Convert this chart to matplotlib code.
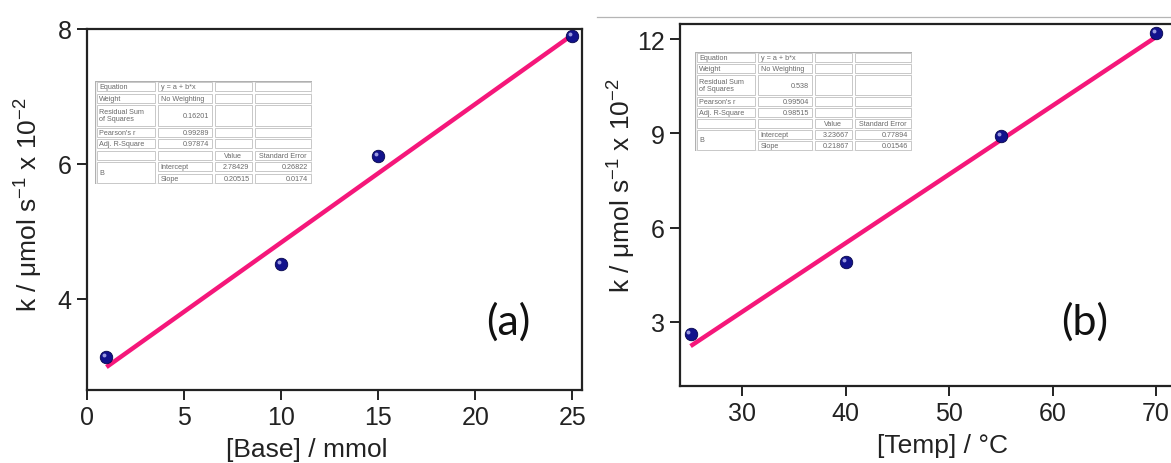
import numpy as np
import matplotlib
matplotlib.use("Agg")
import matplotlib.pyplot as plt
import matplotlib.transforms as mtrans
from matplotlib.patches import Rectangle

# -------------------- data ----------------------------------------------
base_mmol = [1, 10, 15, 25]
k_base = [3.14, 4.52, 6.12, 7.90]
fit_a = (2.78429, 0.20515)          # intercept, slope from the inset table

temp_c = [25, 40, 55, 70]
k_temp = [2.62, 4.90, 8.90, 12.20]
fit_b = (-3.23667, 0.21867)

xticks_a = [0, 5, 10, 15, 20, 25]
yticks_a = [4, 6, 8]
xticks_b = [30, 40, 50, 60, 70]
yticks_b = [3, 6, 9, 12]

table_a = [
    ("Equation", "y = a + b*x", "", ""),
    ("Weight", "No Weighting", "", ""),
    ("Residual Sum\nof Squares", "0.16201", "", ""),
    ("Pearson's r", "0.99289", "", ""),
    ("Adj. R-Square", "0.97874", "", ""),
    ("", "", "Value", "Standard Error"),
    ("B", "Intercept", "2.78429", "0.26822"),
    ("", "Slope", "0.20515", "0.0174"),
]
table_b = [
    ("Equation", "y = a + b*x", "", ""),
    ("Weight", "No Weighting", "", ""),
    ("Residual Sum\nof Squares", "0.538", "", ""),
    ("Pearson's r", "0.99504", "", ""),
    ("Adj. R-Square", "0.98515", "", ""),
    ("", "", "Value", "Standard Error"),
    ("B", "Intercept", "3.23667", "0.77894"),
    ("", "Slope", "0.21867", "0.01546"),
]

# -------------------- style ---------------------------------------------
plt.rcParams['font.family'] = ['Liberation Sans', 'DejaVu Sans']
plt.rcParams['mathtext.fontset'] = 'custom'
plt.rcParams['mathtext.rm'] = 'Liberation Sans'
plt.rcParams['mathtext.it'] = 'Liberation Sans'
plt.rcParams['mathtext.default'] = 'regular'

W, H = 1171, 464
fig = plt.figure(figsize=(W/100, H/100), dpi=100)
fig.patch.set_facecolor('white')

PINK = '#f5177a'
NAVY = '#12128c'

def px_axes(l, t, r, b):
    return fig.add_axes([l/W, 1-b/H, (r-l)/W, (b-t)/H])

def style(ax, xt, yt):
    for s in ax.spines.values():
        s.set_linewidth(1.6); s.set_color('#222222')
    ax.set_xticks(xt); ax.set_yticks(yt)
    ax.tick_params(direction='out', length=7, width=1.4, labelsize=18, pad=4,
                   colors='#222222', top=False, right=False)
    ax.set_facecolor('none')

def spheres(ax, x, y):
    ax.plot(x, y, 'o', ms=9, color=NAVY, mec='#05054a', mew=0.6, zorder=3)
    off = ax.transData + mtrans.ScaledTranslation(-1.5/72, 1.5/72, fig.dpi_scale_trans)
    ax.plot(x, y, 'o', ms=2.8, color='#9a9ae0', mew=0, zorder=4, transform=off)

def draw_table(l, t, r, b, rows):
    tax = px_axes(l, t, r, b)
    tw, th = r-l, b-t
    tax.set_xlim(0, tw); tax.set_ylim(th, 0); tax.axis('off')
    cols = np.array([0, 0.285, 0.545, 0.73, 1.0])*tw
    units = [1, 1, 2, 1, 1, 1, 1, 1]
    uh = th/sum(units)
    tax.add_patch(Rectangle((0, 0), tw, th, fill=False, ec='#b0b0b0', lw=1.0))
    y = 0
    for i, (row, u) in enumerate(zip(rows, units)):
        h = u*uh
        for j in range(4):
            if j == 0 and i == 7:
                continue
            ch = h*2 if (j == 0 and i == 6) else h
            x0, x1 = cols[j], cols[j+1]
            tax.add_patch(Rectangle((x0+1.5, y+1.2), x1-x0-3, ch-2.4, fill=False,
                                    ec='#c8c8c8', lw=0.7))
            txt = row[j]
            if not txt:
                continue
            if j == 0 or (j == 1 and i in (0, 1, 6, 7)):
                tax.text(x0+4, y+ch/2, txt, fontsize=5.2, color='#6a6a6a',
                         ha='left', va='center', linespacing=1.0)
            elif i == 5:
                tax.text((x0+x1)/2, y+ch/2, txt, fontsize=5.2, color='#6a6a6a',
                         ha='center', va='center')
            else:
                tax.text(x1-4, y+ch/2, txt, fontsize=5.2, color='#6a6a6a',
                         ha='right', va='center')
        y += h

# -------------------- panel (a) -----------------------------------------
ax1 = px_axes(87, 30, 582, 391)
xa = np.array([base_mmol[0], base_mmol[-1]])
ax1.plot(xa, fit_a[0]+fit_a[1]*xa, color=PINK, lw=3.2, solid_capstyle='butt', zorder=2)
spheres(ax1, base_mmol, k_base)
ax1.set_xlim(0, 25.5); ax1.set_ylim(2.65, 8)
style(ax1, xticks_a, yticks_a)
draw_table(95, 82, 312, 185, table_a)

# -------------------- panel (b) -----------------------------------------
ax2 = px_axes(680, 25, 1182, 387)
xb = np.array([temp_c[0], temp_c[-1]])
ax2.plot(xb, fit_b[0]+fit_b[1]*xb, color=PINK, lw=3.2, solid_capstyle='butt', zorder=2)
spheres(ax2, temp_c, k_temp)
ax2.set_xlim(23.98, 72.5); ax2.set_ylim(0.96, 12.48)
style(ax2, xticks_b, yticks_b)
ax2.spines['right'].set_visible(False)
draw_table(695, 53, 912, 152, table_b)

# panel tags
fig.text(508/W, 1-322/H, '(a)', fontsize=31, family=['Lato', 'DejaVu Sans'],
         ha='center', va='center', color='#111111')
fig.text(1085/W, 1-322/H, '(b)', fontsize=31, family=['Lato', 'DejaVu Sans'],
         ha='center', va='center', color='#111111')

# thin grey rule above panel (b)
fig.add_artist(plt.Line2D([597/W, 1.0], [1-18/H, 1-18/H], color='#b5b5b5', lw=0.9))

# -------------------- axis labels ---------------------------------------
ylab = r'k / $\mu$mol s$^{-1}$ x 10$^{-2}$'
fig.text(29/W, 1-205/H, ylab, rotation=90, fontsize=19, ha='center', va='center', color='#222222')
fig.text(622/W, 1-186/H, ylab, rotation=90, fontsize=19, ha='center', va='center', color='#222222')
fig.text(307/W, 1-450/H, '[Base] / mmol', fontsize=19, ha='center', va='center', color='#222222')
fig.text(942/W, 1-446/H, '[Temp] / \u00b0C', fontsize=19, ha='center', va='center', color='#222222')

fig.savefig('out.png', dpi=100)
